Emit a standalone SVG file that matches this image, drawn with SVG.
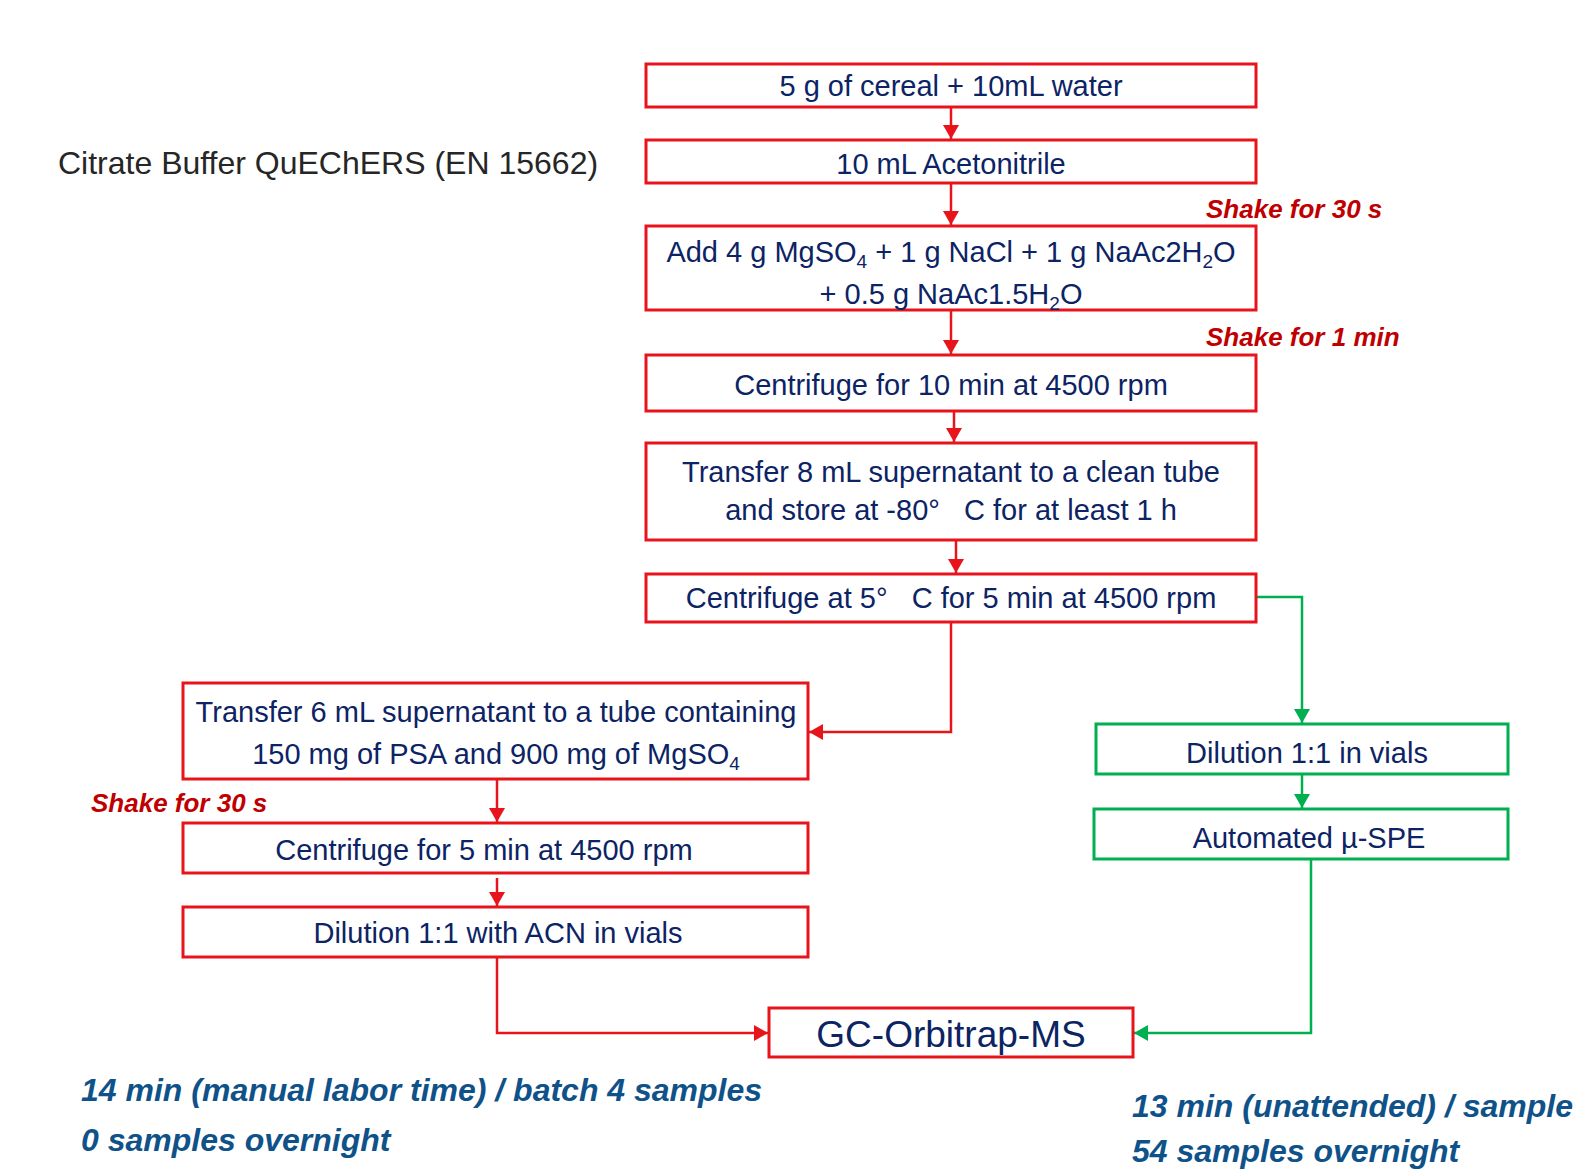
<svg xmlns="http://www.w3.org/2000/svg" width="1578" height="1170" viewBox="0 0 1578 1170">
<defs>
<style>
.rb{fill:#fff;stroke:#E8141B;stroke-width:3}
.gb{fill:#fff;stroke:#00B050;stroke-width:3}
.t{font-family:"Liberation Sans",Arial,sans-serif;font-size:29px;fill:#0C2364;text-anchor:middle}
.sub{font-size:19px}
.rc{fill:none;stroke:#E8141B;stroke-width:2.5}
.gc{fill:none;stroke:#00B050;stroke-width:2.5}
.shake{font-family:"Liberation Sans",Arial,sans-serif;font-size:26px;font-weight:bold;font-style:italic;fill:#C00000}
.note{font-family:"Liberation Sans",Arial,sans-serif;font-size:32px;font-weight:bold;font-style:italic;fill:#0F5289}
.title{font-family:"Liberation Sans",Arial,sans-serif;font-size:32px;fill:#262626}
</style>
<marker id="ar" viewBox="0 0 14 16" refX="14" refY="8" markerWidth="14" markerHeight="16" markerUnits="userSpaceOnUse" orient="auto">
<path d="M0,0 L14,8 L0,16 z" fill="#E8141B"/>
</marker>
<marker id="ag" viewBox="0 0 14 16" refX="14" refY="8" markerWidth="14" markerHeight="16" markerUnits="userSpaceOnUse" orient="auto">
<path d="M0,0 L14,8 L0,16 z" fill="#00B050"/>
</marker>
</defs>
<rect width="1578" height="1170" fill="#fff"/>

<text id="title" class="title" x="58" y="174">Citrate Buffer QuEChERS (EN 15662)</text>

<g id="connectors">
<path class="rc" d="M951 107 V139" marker-end="url(#ar)"/>
<path class="rc" d="M951 183 V225" marker-end="url(#ar)"/>
<path class="rc" d="M951 310 V354" marker-end="url(#ar)"/>
<path class="rc" d="M954 411 V442" marker-end="url(#ar)"/>
<path class="rc" d="M956 540 V573" marker-end="url(#ar)"/>
<path class="rc" d="M951 622 V732 H809" marker-end="url(#ar)"/>
<path class="gc" d="M1257 597 H1302 V723" marker-end="url(#ag)"/>
<path class="gc" d="M1302 775 V808" marker-end="url(#ag)"/>
<path class="gc" d="M1311 859 V1033 H1134" marker-end="url(#ag)"/>
<path class="rc" d="M497 779 V822" marker-end="url(#ar)"/>
<path class="rc" d="M497 878 V906" marker-end="url(#ar)"/>
<path class="rc" d="M497 957 V1033 H768" marker-end="url(#ar)"/>
</g>

<g id="n1"><rect class="rb" x="646" y="64" width="610" height="43"/><text class="t" x="951" y="96">5 g of cereal + 10mL water</text></g>
<g id="n2"><rect class="rb" x="646" y="140" width="610" height="43"/><text class="t" x="951" y="174">10 mL Acetonitrile</text></g>
<g id="n3"><rect class="rb" x="646" y="226" width="610" height="84"/>
<text class="t" x="951" y="262">Add 4 g MgSO<tspan class="sub" dy="6">4</tspan><tspan dy="-6"> + 1 g NaCl + 1 g NaAc2H</tspan><tspan class="sub" dy="6">2</tspan><tspan dy="-6">O</tspan></text>
<text class="t" x="951" y="304">+ 0.5 g NaAc1.5H<tspan class="sub" dy="6">2</tspan><tspan dy="-6">O</tspan></text></g>
<g id="n4"><rect class="rb" x="646" y="355" width="610" height="56"/><text class="t" x="951" y="395">Centrifuge for 10 min at 4500 rpm</text></g>
<g id="n5"><rect class="rb" x="646" y="443" width="610" height="97"/>
<text class="t" x="951" y="482">Transfer 8 mL supernatant to a clean tube</text>
<text class="t" x="951" y="520">and store at -80°&#160;&#160; C for at least 1 h</text></g>
<g id="n6"><rect class="rb" x="646" y="574" width="610" height="48"/><text class="t" x="951" y="608">Centrifuge at 5°&#160;&#160; C for 5 min at 4500 rpm</text></g>

<g id="n7"><rect class="rb" x="183" y="683" width="625" height="96"/>
<text class="t" x="496" y="722">Transfer 6 mL supernatant to a tube containing</text>
<text class="t" x="496" y="764">150 mg of PSA and 900 mg of MgSO<tspan class="sub" dy="6">4</tspan></text></g>
<g id="n8"><rect class="rb" x="183" y="823" width="625" height="50"/><text class="t" x="484" y="860">Centrifuge for 5 min at 4500 rpm</text></g>
<g id="n9"><rect class="rb" x="183" y="907" width="625" height="50"/><text class="t" x="498" y="943">Dilution 1:1 with ACN in vials</text></g>

<g id="n10"><rect class="gb" x="1096" y="724" width="412" height="50"/><text class="t" x="1307" y="763">Dilution 1:1 in vials</text></g>
<g id="n11"><rect class="gb" x="1094" y="809" width="414" height="50"/><text class="t" x="1309" y="848">Automated µ-SPE</text></g>

<g id="gc"><rect class="rb" x="769" y="1008" width="364" height="49"/><text class="t" x="951" y="1047" style="font-size:37px">GC-Orbitrap-MS</text></g>

<text class="shake" x="1206" y="218">Shake for 30 s</text>
<text class="shake" x="1206" y="346">Shake for 1 min</text>
<text class="shake" x="91" y="812">Shake for 30 s</text>

<text class="note" x="81" y="1101">14 min (manual labor time) / batch 4 samples</text>
<text class="note" x="81" y="1151">0 samples overnight</text>
<text class="note" x="1132" y="1117">13 min (unattended) / sample</text>
<text class="note" x="1132" y="1162">54 samples overnight</text>
</svg>
